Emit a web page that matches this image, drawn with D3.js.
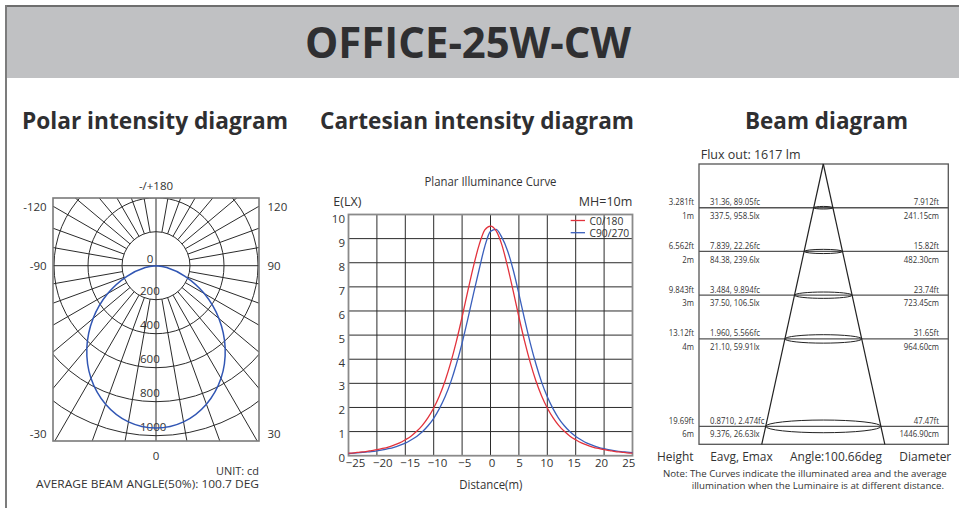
<!DOCTYPE html>
<html><head><meta charset="utf-8">
<script src="https://cdn.jsdelivr.net/npm/d3@7"></script>
<style>
body{margin:0;background:#fff}
svg{display:block}
text{font-family:"Open Sans","Noto Sans",sans-serif;fill:#333}
</style>
</head><body>
<svg id="c" width="959" height="508"></svg>
<script>
// ---------------- DATA ----------------
const mainTitle = "OFFICE-25W-CW";
const sectionTitles = ["Polar intensity diagram", "Cartesian intensity diagram", "Beam diagram"];

// Polar (cd), symmetric distribution
const polarAngles = [0, 10, 20, 30, 40, 50, 60, 70, 80, 90];
const polarIntensity = [955, 933, 867, 765, 633, 483, 328, 182, 64, 0];
const polarRings = [200, 400, 600, 800, 1000];
const polarLeftLabels = ["-120", "-90", "-30"];
const polarRightLabels = ["120", "90", "30"];
const polarUnit = "UNIT: cd";
const polarBeam = "AVERAGE BEAM ANGLE(50%): 100.7 DEG";

// Cartesian (lx vs distance m)
const cartDistance = d3.range(-25, 26);
const c0_180 = [0.11,0.12,0.15,0.17,0.21,0.25,0.30,0.36,0.44,0.53,0.66,0.81,1.01,1.26,1.58,1.98,2.48,3.10,3.86,4.75,5.75,6.82,7.85,8.74,9.36,
  9.52,
  9.32,8.74,7.85,6.82,5.75,4.75,3.86,3.10,2.48,1.98,1.58,1.26,1.01,0.81,0.66,0.53,0.44,0.36,0.30,0.25,0.21,0.17,0.15,0.12,0.11];
const c90_270 = [0.09,0.11,0.13,0.15,0.17,0.20,0.24,0.29,0.35,0.43,0.52,0.65,0.80,0.99,1.24,1.55,1.95,2.44,3.05,3.80,4.67,5.66,6.71,7.72,8.68,
  9.30,
  9.38,9.05,8.50,7.70,6.71,5.66,4.67,3.80,3.05,2.44,1.95,1.55,1.24,0.99,0.80,0.65,0.52,0.43,0.35,0.29,0.24,0.20,0.17,0.15,0.13];
const cartXTicks = [-25, -20, -15, -10, -5, 0, 5, 10, 15, 20, 25];
const cartYTicks = [0, 1, 2, 3, 4, 5, 6, 7, 8, 9, 10];
const seriesNames = ["C0/180", "C90/270"];

// Beam
const fluxOut = 1617;
const beamAngle = 100.66;
const beamHeightsM = [1, 2, 3, 4, 6];
const beamHeightFt = ["3.281ft", "6.562ft", "9.843ft", "13.12ft", "19.69ft"];
const beamFc = ["31.36, 89.05fc", "7.839, 22.26fc", "3.484, 9.894fc", "1.960, 5.566fc", "0.8710, 2.474fc"];
const beamLx = ["337.5, 958.5lx", "84.38, 239.6lx", "37.50, 106.5lx", "21.10, 59.91lx", "9.376, 26.63lx"];
const beamDiamFt = ["7.912ft", "15.82ft", "23.74ft", "31.65ft", "47.47ft"];
const beamDiamCm = [241.15, 482.30, 723.45, 964.60, 1446.90];

// ---------------- HELPERS ----------------
const svg = d3.select("#c");
function fit(sel, w) { sel.attr("textLength", w).attr("lengthAdjust", "spacingAndGlyphs"); return sel; }
function fitSize(sel, w) {
  const n = sel.node(); const nat = n.getComputedTextLength();
  const fs = parseFloat(sel.attr("font-size"));
  if (nat > w) sel.attr("font-size", fs * w / nat);
  return fit(sel, w);
}
function squeeze(sel, k) {
  sel.each(function () { const w = this.getComputedTextLength(); this.setAttribute("textLength", w * k); this.setAttribute("lengthAdjust", "spacingAndGlyphs"); });
  return sel;
}
function txt(g, x, y, s, size, anchor) {
  return g.append("text").attr("x", x).attr("y", y).attr("font-size", size)
    .attr("text-anchor", anchor || "start").attr("dominant-baseline", "central").text(s);
}

// ---------------- HEADER ----------------
svg.append("rect").attr("x", 6).attr("y", 6).attr("width", 953).attr("height", 72).attr("fill", "#c0c1c3");
svg.append("line").attr("x1", 6).attr("x2", 959).attr("y1", 6).attr("y2", 6).attr("stroke", "#6e6e6e").attr("stroke-width", 2);
svg.append("line").attr("x1", 6).attr("x2", 6).attr("y1", 5).attr("y2", 508).attr("stroke", "#7c7c7c").attr("stroke-width", 2);
fit(svg.append("text").attr("x", 305).attr("y", 58).attr("font-size", 43).attr("font-weight", 700)
  .style("fill", "#2f2f31").text(mainTitle), 326);

const secX = [22, 320, 745], secW = [266, 314, 163];
sectionTitles.forEach((s, i) => {
  fit(svg.append("text").attr("x", secX[i]).attr("y", 129).attr("font-size", 24).attr("font-weight", 700)
    .style("fill", "#2f2f31").text(s), secW[i]);
});

// ---------------- POLAR ----------------
const P = { cx: 156, cy: 265.7, x0: 53, x1: 259, y0: 198, y1: 441 };
const r = d3.scaleLinear().domain([0, 1000]).range([0, 170]);
const pg = svg.append("g");
svg.append("clipPath").attr("id", "pclip").append("rect")
  .attr("x", P.x0).attr("y", P.y0).attr("width", P.x1 - P.x0).attr("height", P.y1 - P.y0);
const grid = pg.append("g").attr("clip-path", "url(#pclip)").attr("stroke", "#2b2b2b").attr("fill", "none").attr("stroke-width", 1);
polarRings.forEach(v => grid.append("circle").attr("cx", P.cx).attr("cy", P.cy).attr("r", r(v)));
d3.range(0, 360, 10).filter(a => a % 90 !== 0).forEach(a => {
  const t = a * Math.PI / 180;
  grid.append("line")
    .attr("x1", P.cx + r(polarRings[0]) * Math.sin(t)).attr("y1", P.cy + r(polarRings[0]) * Math.cos(t))
    .attr("x2", P.cx + 300 * Math.sin(t)).attr("y2", P.cy + 300 * Math.cos(t));
});
grid.append("line").attr("x1", P.x0).attr("x2", P.x1).attr("y1", P.cy).attr("y2", P.cy);
grid.append("line").attr("x1", P.cx).attr("x2", P.cx).attr("y1", P.y0).attr("y2", P.y1);
pg.append("rect").attr("x", P.x0).attr("y", P.y0).attr("width", P.x1 - P.x0).attr("height", P.y1 - P.y0)
  .attr("fill", "none").attr("stroke", "#7a7a7a").attr("stroke-width", 1.6);

// ring labels
txt(pg, 150, P.cy - 7.4, "0", 11.5, "middle");
polarRings.forEach(v => txt(pg, 140, P.cy + r(v) - 9.5, String(v), 11.5, "start"));

// curve
const polarPts = [];
polarAngles.slice().reverse().forEach((a, i) => polarPts.push([-a, polarIntensity[polarAngles.length - 1 - i]]));
polarAngles.slice(1).forEach((a, i) => polarPts.push([a, polarIntensity[i + 1]]));
const radial = d3.lineRadial()
  .angle(d => Math.PI - d[0] * Math.PI / 180)
  .radius(d => r(d[1]))
  .curve(d3.curveCatmullRom);
pg.append("path").attr("transform", `translate(${P.cx},${P.cy})`).attr("d", radial(polarPts))
  .attr("fill", "none").attr("stroke", "#3156b4").attr("stroke-width", 1.5);

// angle labels
txt(pg, P.cx, 185, "-/+180", 11.5, "middle");
const angY = [206.7, 265.7, 433.3];
polarLeftLabels.forEach((s, i) => txt(pg, 46.7, angY[i], s, 11.5, "end"));
polarRightLabels.forEach((s, i) => txt(pg, 267.5, angY[i], s, 11.5, "start"));
txt(pg, P.cx, 455.7, "0", 11.5, "middle");
fitSize(txt(pg, 259, 470, polarUnit, 11.5, "end"), 43);
fitSize(txt(pg, 36, 483.7, polarBeam, 11.5, "start"), 223);

// ---------------- CARTESIAN ----------------
const C = { x0: 348.5, x1: 632.5, y0: 214.5, y1: 455.7 };
const x = d3.scaleLinear().domain([-25, 25]).range([C.x0, C.x1]);
const y = d3.scaleLinear().domain([0, 10]).range([C.y1, C.y0]);
const xLab = d3.scaleLinear().domain([-25, 25]).range([355, 628.3]);
const yLab = d3.scaleLinear().domain([0, 10]).range([457.7, 219.3]);
const cg = svg.append("g");
const cgrid = cg.append("g").attr("stroke", "#2b2b2b").attr("stroke-width", 1);
cartXTicks.slice(1, -1).forEach(v => cgrid.append("line").attr("x1", x(v)).attr("x2", x(v)).attr("y1", C.y0).attr("y2", C.y1));
cartYTicks.slice(1, -1).forEach(v => cgrid.append("line").attr("x1", C.x0).attr("x2", C.x1).attr("y1", y(v)).attr("y2", y(v)));
cg.append("rect").attr("x", C.x0).attr("y", C.y0).attr("width", C.x1 - C.x0).attr("height", C.y1 - C.y0)
  .attr("fill", "none").attr("stroke", "#8a8a8a").attr("stroke-width", 1.8);

const xa = cg.append("g").attr("transform", `translate(0,${C.y1})`)
  .call(d3.axisBottom(xLab).tickValues(cartXTicks).tickSize(0).tickPadding(3).tickFormat(d3.format("d")));
const ya = cg.append("g").attr("transform", `translate(${C.x0 - 0.5},0)`)
  .call(d3.axisLeft(yLab).tickValues(cartYTicks).tickSize(0).tickPadding(3).tickFormat(d3.format("d")));
[xa, ya].forEach(a => { a.select(".domain").remove(); a.selectAll("text").attr("font-size", 11.5).attr("font-family", null).style("fill", "#333"); });

const line = d3.line().x((d, i) => x(cartDistance[i])).y(d => y(d)).curve(d3.curveMonotoneX);
cg.append("path").attr("d", line(c90_270)).attr("fill", "none").attr("stroke", "#3a5fbc").attr("stroke-width", 1.3);
cg.append("path").attr("d", line(c0_180)).attr("fill", "none").attr("stroke", "#e2323c").attr("stroke-width", 1.3);

fit(txt(cg, 424.5, 181.7, "Planar Illuminance Curve", 12, "start"), 132);
txt(cg, 333.3, 201.7, "E(LX)", 12.5, "start");
txt(cg, 632.3, 201.7, "MH=10m", 12.5, "end");
fit(txt(cg, 459.3, 484, "Distance(m)", 12, "start"), 63);
const legCol = ["#e2323c", "#3a5fbc"], legY = [220.5, 232.7];
seriesNames.forEach((s, i) => {
  cg.append("line").attr("x1", 570.7).attr("x2", 585).attr("y1", legY[i]).attr("y2", legY[i]).attr("stroke", legCol[i]).attr("stroke-width", 1.3);
  txt(cg, 589.5, legY[i], s, 10.3, "start");
});

// ---------------- BEAM ----------------
const B = { x0: 699, x1: 948.3, y0: 164, y1: 444.3, ax: 823.3 };
const by = d3.scaleLinear().domain([0, 6.41]).range([B.y0, B.y1]);
const bx = d3.scaleLinear().domain([-8, 8]).range([B.ax - 63.7, B.ax + 63.7]);
const bg = svg.append("g");
const half = Math.tan(beamAngle / 2 * Math.PI / 180);
bg.append("rect").attr("x", B.x0).attr("y", B.y0).attr("width", B.x1 - B.x0).attr("height", B.y1 - B.y0)
  .attr("fill", "none").attr("stroke", "#555").attr("stroke-width", 1.3);
beamHeightsM.forEach(h => bg.append("line").attr("x1", B.x0).attr("x2", B.x1).attr("y1", by(h)).attr("y2", by(h))
  .attr("stroke", "#555").attr("stroke-width", 1.3));
const dBot = by.domain()[1];
[-1, 1].forEach(s => bg.append("line").attr("x1", bx(0)).attr("y1", by(0)).attr("x2", bx(s * dBot * half)).attr("y2", by(dBot))
  .attr("stroke", "#222").attr("stroke-width", 1.2));
beamHeightsM.forEach((h, i) => {
  const rx = bx(beamDiamCm[i] / 200) - bx(0);
  bg.append("ellipse").attr("cx", bx(0)).attr("cy", by(h)).attr("rx", rx).attr("ry", Math.max(1.3, rx * 0.11))
    .attr("fill", "none").attr("stroke", "#222").attr("stroke-width", 1);
});
txt(bg, 700.7, 154, `Flux out: ${fluxOut} lm`, 12.5, "start");
const small = [];
beamHeightsM.forEach((h, i) => {
  const yy = by(h);
  small.push(txt(bg, 694, yy - 6, beamHeightFt[i], 9.5, "end"));
  small.push(txt(bg, 694, yy + 7.6, h + "m", 9.5, "end"));
  small.push(txt(bg, 710, yy - 6, beamFc[i], 9.5, "start"));
  small.push(txt(bg, 710, yy + 7.6, beamLx[i], 9.5, "start"));
  small.push(txt(bg, 939, yy - 6, beamDiamFt[i], 9.5, "end"));
  small.push(txt(bg, 939, yy + 7.6, beamDiamCm[i].toFixed(2) + "cm", 9.5, "end"));
});
const kSmall = 50 / small[2].node().getComputedTextLength();
small.forEach(s => squeeze(s, kSmall));

const botLabels = ["Height", "Eavg, Emax", `Angle:${beamAngle}deg`, "Diameter"];
const botX = [675.3, 741.5, 836, 925.3];
const bots = botLabels.map((s, i) => txt(bg, botX[i], 455.7, s, 13, "middle"));
const kBot = 92 / bots[2].node().getComputedTextLength();
bots.forEach(s => squeeze(s, kBot));
fitSize(txt(bg, 663, 473, "Note: The Curves indicate the illuminated area and the average", 10.5, "start"), 283.7);
fitSize(txt(bg, 691.7, 485.3, "illumination when the Luminaire is at different distance.", 10.5, "start"), 252.3);
</script>
</body></html>
